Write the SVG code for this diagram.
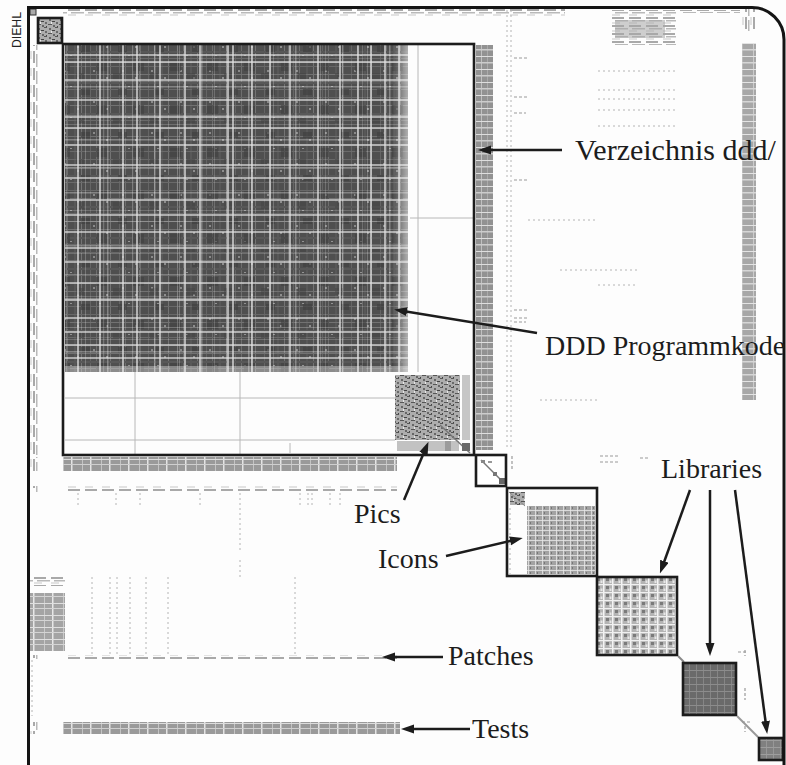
<svg xmlns="http://www.w3.org/2000/svg" width="786" height="765" viewBox="0 0 786 765">
  <style>
    .box{fill:none;stroke:#1c1c1c;stroke-width:2.6}
    .frame{fill:none;stroke:#141414;stroke-width:3}
    .lbl{font-family:"Liberation Serif","Times New Roman",serif;font-size:28px;fill:#1c1c1c}
    .arr{fill:none;stroke:#1c1c1c;stroke-width:2.5;marker-end:url(#ah)}
    .hl{stroke:#e2e2e2;stroke-width:1.6}
    .tick{stroke:#b4b4b4;stroke-width:1;stroke-dasharray:2 3}
    .tickd{stroke:#9a9a9a;stroke-width:1.2;stroke-dasharray:3 2}
    .thin{stroke:#b8b8b8;stroke-width:1}
  </style>
  <defs>
    <marker id="ah" markerWidth="13" markerHeight="10" refX="4" refY="4.5" orient="auto" markerUnits="userSpaceOnUse">
      <path d="M0,0 L13,4.5 L0,9 z" fill="#1c1c1c"/>
    </marker>
    <!-- dense dependency texture -->
    <pattern id="pDark" width="29" height="31" patternUnits="userSpaceOnUse">
      <rect width="29" height="31" fill="#4f4f4f"/>
      <rect x="3" width="1" height="31" fill="#656565"/>
      <rect x="9" width="1" height="31" fill="#6e6e6e"/>
      <rect x="16" width="2" height="31" fill="#585858"/>
      <rect x="23" width="1" height="31" fill="#747474"/>
      <rect y="4" width="29" height="1" fill="#686868"/>
      <rect y="12" width="29" height="1" fill="#727272"/>
      <rect y="20" width="29" height="2" fill="#585858"/>
      <rect y="27" width="29" height="1" fill="#6a6a6a"/>
      <rect x="6" y="8" width="2" height="2" fill="#8a8a8a"/>
      <rect x="19" y="15" width="2" height="2" fill="#8e8e8e"/>
      <rect x="12" y="24" width="2" height="1" fill="#939393"/>
    </pattern>
    <pattern id="pDark2" width="37" height="43" patternUnits="userSpaceOnUse">
      <rect x="7" y="3" width="9" height="6" fill="#3e3e3e" opacity="0.6"/>
      <rect x="22" y="19" width="11" height="9" fill="#3e3e3e" opacity="0.55"/>
      <rect x="2" y="30" width="8" height="7" fill="#444" opacity="0.5"/>
      <rect x="29" width="1" height="43" fill="#fff" opacity="0.18"/>
      <rect y="38" width="37" height="1" fill="#fff" opacity="0.18"/>
    </pattern>
    <pattern id="pLight" width="47" height="53" patternUnits="userSpaceOnUse">
      <rect x="13" width="1.5" height="53" fill="#fff" opacity="0.3"/>
      <rect x="38" width="1" height="53" fill="#fff" opacity="0.22"/>
      <rect y="9" width="47" height="1" fill="#fff" opacity="0.25"/>
      <rect y="33" width="47" height="1.5" fill="#fff" opacity="0.3"/>
    </pattern>
    <!-- dotted strips -->
    <pattern id="pHStrip" width="17" height="8" patternUnits="userSpaceOnUse">
      <rect x="0" y="1" width="12" height="2" fill="#a9a9a9"/>
      <rect x="3" y="4" width="13" height="1.5" fill="#b9b9b9"/>
      <rect x="0" y="6.5" width="8" height="1" fill="#c8c8c8"/>
    </pattern>
    <pattern id="pHStripDark" width="19" height="12" patternUnits="userSpaceOnUse">
      <rect width="19" height="12" fill="#9a9a9a"/>
      <rect x="14" width="1.5" height="12" fill="#e4e4e4"/>
      <rect x="6" width="1" height="12" fill="#c4c4c4"/>
      <rect y="3" width="19" height="1" fill="#dcdcdc"/>
      <rect y="8" width="19" height="1" fill="#cfcfcf"/>
    </pattern>
    <pattern id="pVStrip" width="8" height="17" patternUnits="userSpaceOnUse">
      <rect y="0" x="1" height="12" width="2" fill="#a9a9a9"/>
      <rect y="3" x="4" height="13" width="1.5" fill="#b9b9b9"/>
      <rect y="0" x="6.5" height="8" width="1" fill="#c8c8c8"/>
    </pattern>
    <pattern id="pVCol" width="17" height="13" patternUnits="userSpaceOnUse">
      <rect width="17" height="13" fill="#929292"/>
      <rect x="5" width="1" height="13" fill="#c0c0c0"/>
      <rect x="11" width="1" height="13" fill="#aaaaaa"/>
      <rect y="4" width="17" height="1" fill="#dedede"/>
      <rect y="10" width="17" height="1.5" fill="#cccccc"/>
    </pattern>
    <!-- cluster textures -->
    <pattern id="pSpeck" width="11" height="9" patternUnits="userSpaceOnUse">
      <rect width="11" height="9" fill="#adadad"/>
      <rect x="0" y="0" width="3" height="1" fill="#555"/>
      <rect x="5" y="1" width="2" height="2" fill="#666"/>
      <rect x="8" y="3" width="3" height="1" fill="#444"/>
      <rect x="1" y="4" width="2" height="2" fill="#6a6a6a"/>
      <rect x="4" y="6" width="4" height="1" fill="#555"/>
      <rect x="9" y="7" width="2" height="2" fill="#666"/>
      <rect x="2" y="8" width="1" height="1" fill="#444"/>
      <rect x="7" y="4" width="1" height="2" fill="#e8e8e8"/>
    </pattern>
    <pattern id="pLib1" width="9" height="8" patternUnits="userSpaceOnUse">
      <rect width="9" height="8" fill="#b4b4b4"/>
      <rect width="1.5" height="8" fill="#f4f4f4"/>
      <rect width="9" height="1.2" fill="#f0f0f0"/>
      <rect x="3" y="2" width="3" height="3" fill="#7a7a7a"/>
      <rect x="6.5" y="4.5" width="2" height="2.5" fill="#e6e6e6"/>
    </pattern>
    <pattern id="pLib2" width="7" height="7" patternUnits="userSpaceOnUse">
      <rect width="7" height="7" fill="#6a6a6a"/>
      <rect x="3" width="1" height="7" fill="#858585"/>
      <rect y="5" width="7" height="1" fill="#8c8c8c"/>
    </pattern>
    <pattern id="pIcon" width="7" height="5" patternUnits="userSpaceOnUse">
      <rect width="7" height="5" fill="#a2a2a2"/>
      <rect x="3" width="1" height="5" fill="#dadada"/>
      <rect width="7" height="0.8" fill="#e8e8e8"/>
      <rect x="5" y="2" width="1" height="2" fill="#777"/>
    </pattern>
    <linearGradient id="gFadeR" x1="0" x2="1" y1="0" y2="0">
      <stop offset="0" stop-color="#fff" stop-opacity="0"/>
      <stop offset="1" stop-color="#fff" stop-opacity="0.55"/>
    </linearGradient>
  </defs>

  <rect width="786" height="765" fill="#fdfdfd"/>

  <!-- off-diagonal dependency marks -->
  <g id="deps">
    <rect x="63" y="9" width="502" height="8" fill="url(#pHStrip)"/>
    <rect x="612" y="10" width="64" height="35" fill="url(#pHStrip)"/>
    <rect x="615" y="20" width="50" height="18" fill="#a8a8a8" opacity="0.55"/>
    <rect x="680" y="10" width="60" height="3" fill="url(#pHStrip)"/>
    <rect x="742" y="9" width="14" height="22" fill="url(#pVStrip)"/>
    <rect x="742" y="43" width="14" height="357" fill="url(#pVCol)" opacity="0.8"/>
    <rect x="30" y="45" width="8" height="410" fill="url(#pVStrip)"/>
    <rect x="476" y="45" width="17" height="405" fill="url(#pVCol)"/>
    <line x1="507" y1="10" x2="507" y2="450" class="tick"/>
    <line x1="511" y1="10" x2="511" y2="450" class="tick"/>
    <path d="M514,58h14M514,97h14M514,113h12M514,180h14M514,310h14M514,318h14M514,322h12" class="tickd"/>
    <path d="M598,71h77M598,90h77M598,99h77M598,110h77M598,126h77M598,285h40" class="tick"/>
    <path d="M528,220h70M560,270h80M540,400h60" class="tick"/>
    <!-- bands below the ddd block -->
    <rect x="63" y="457" width="334" height="14" fill="url(#pHStripDark)"/>
    <rect x="30" y="457" width="8" height="14" fill="url(#pVStrip)"/>
    <rect x="63" y="486" width="334" height="6" fill="url(#pHStrip)"/>
    <rect x="30" y="486" width="8" height="6" fill="url(#pVStrip)"/>
    <path d="M78,493v12M116,493v12M140,493v12M200,493v14M240,493v60M300,493v12M308,493v12M312,493v12M330,493v12M340,493v12" class="tick"/>
    <path d="M505,456v14M512,456v14M600,456h20M640,458h10M600,462h20" class="tickd"/>
    <!-- lower-left cluster -->
    <rect x="30" y="577" width="35" height="9" fill="url(#pHStrip)"/>
    <rect x="30" y="593" width="35" height="58" fill="url(#pHStripDark)" opacity="0.9"/>
    <path d="M92,577v78M110,577v78M117,577v78M130,577v78M146,577v78M168,577v78M295,577v78M240,560v18" class="tick"/>
    <line x1="32" y1="660" x2="32" y2="716" class="tick"/>
    <!-- patches / tests rows -->
    <rect x="63" y="655" width="334" height="4" fill="url(#pHStrip)"/>
    <rect x="30" y="655" width="8" height="4" fill="url(#pVStrip)"/>
    <rect x="63" y="722" width="337" height="12" fill="url(#pHStripDark)"/>
    <rect x="30" y="722" width="8" height="12" fill="url(#pVStrip)"/>
    <!-- scattered marks near the libraries -->
    <path d="M745,650v6M738,652h8M745,688v12M742,722h8M745,726v6" class="tickd"/>
    <path d="M623,600v8M670,640h8" class="tick"/>
  </g>

  <!-- tiny blocks at the top left -->
  <g id="blk-root">
    <rect x="30" y="9" width="6" height="6" fill="#aaa" stroke="#333" stroke-width="1"/>
  </g>
  <g id="blk-top">
    <rect x="38" y="18" width="24" height="25" fill="url(#pSpeck)"/>
    <rect x="38" y="18" width="24" height="25" class="box"/>
  </g>

  <!-- directory ddd/ with source and pictures -->
  <g id="node-verzeichnis">
    <g id="node-ddd">
      <rect x="65" y="45" width="343" height="327" fill="url(#pDark)"/>
      <rect x="65" y="45" width="343" height="327" fill="url(#pDark2)"/>
      <rect x="65" y="45" width="343" height="327" fill="url(#pLight)"/>
      <path class="hl" opacity="0.85" d="M78,45v327M100,45v327M123,45v327M137,45v327M160,45v327M185,45v327M200,45v327M228,45v327M233,45v327M252,45v327M270,45v327M290,45v327M318,45v327M340,45v327M358,45v327M371,45v327M385,45v327M399,45v327"/>
      <path class="hl" opacity="0.85" d="M65,55h343M65,62h343M65,80h343M65,100h343M65,117h343M65,128h343M65,145h343M65,165h343M65,178h343M65,200h343M65,215h343M65,232h343M65,248h343M65,262h343M65,283h343M65,300h343M65,318h343M65,332h343M65,345h343M65,358h343"/>
      <rect x="393" y="45" width="15" height="327" fill="url(#gFadeR)"/>
      <rect x="65" y="366" width="343" height="6" fill="#fff" opacity="0.35"/>
    </g>
    <path d="M65,398h330M65,440h330M135,372v82M240,372v82M290,443v10M418,45v327M410,218h63" class="thin"/>
    <g id="node-pics">
      <rect x="395" y="375" width="65" height="65" fill="url(#pSpeck)"/>
      <rect x="462" y="375" width="8" height="65" fill="#c6c6c6"/>
      <rect x="397" y="441" width="62" height="10" fill="#c2c2c2"/>
      <rect x="445" y="441" width="6" height="10" fill="#9c9c9c"/>
      <path d="M440,425l30,28" stroke="#777" stroke-width="1.5"/>
      <rect x="462" y="443" width="8" height="8" fill="#6a6a6a"/>
    </g>
    <rect x="63" y="44" width="411" height="411" class="box"/>
  </g>

  <g id="blk-mid">
    <rect x="477" y="456" width="29" height="30" fill="#fff"/>
    <path d="M481,460l22,22" stroke="#777" stroke-width="1.5"/>
    <rect x="481" y="460" width="4" height="3" fill="#888"/>
    <rect x="488" y="461" width="4" height="2" fill="#999"/>
    <rect x="493" y="472" width="4" height="4" fill="#777"/>
    <rect x="499" y="478" width="6" height="6" fill="#666"/>
    <rect x="476" y="455" width="30" height="31" class="box"/>
  </g>

  <g id="node-icons">
    <rect x="510" y="492" width="15" height="13" fill="url(#pSpeck)"/>
    <path d="M509,492l16,14" stroke="#888" stroke-width="1"/>
    <line x1="510" y1="508" x2="510" y2="574" class="tick"/>
    <rect x="527" y="506" width="68" height="68" fill="url(#pIcon)"/>
    <rect x="507" y="488" width="90" height="88" class="box"/>
  </g>

  <g id="node-lib1">
    <rect x="598" y="578" width="78" height="76" fill="url(#pLib1)"/>
    <rect x="597" y="577" width="80" height="78" class="box"/>
  </g>
  <path d="M678,656l6,6" stroke="#888" stroke-width="2"/>
  <g id="node-lib2">
    <rect x="683" y="663" width="53" height="52" fill="url(#pLib2)"/>
    <rect x="683" y="663" width="53" height="52" class="box"/>
  </g>
  <path d="M737,716l21,21" stroke="#999" stroke-width="2"/>
  <g id="node-lib3">
    <rect x="759" y="738" width="24" height="22" fill="url(#pLib2)" opacity="0.85"/>
    <rect x="759" y="738" width="24" height="22" class="box"/>
  </g>

  <!-- outer frame -->
  <g id="frame">
    <path class="frame" d="M28.5,765V7.5H752a32,32 0 0 1 32,32V765"/>
  </g>
  <g id="mark">
    <text x="0" y="0" transform="translate(21,48) rotate(-90)" font-family="Liberation Sans, Arial, sans-serif" font-size="13" textLength="36" lengthAdjust="spacingAndGlyphs" fill="#222">DIEHL</text>
  </g>

  <!-- callouts -->
  <g id="connectors">
    <line class="arr" x1="562" y1="150" x2="487" y2="150"/>
    <line class="arr" x1="537" y1="333" x2="403" y2="311"/>
    <line class="arr" x1="404" y1="500" x2="425" y2="450"/>
    <line class="arr" x1="446" y1="556" x2="514" y2="540"/>
    <line class="arr" x1="690" y1="490" x2="663" y2="565"/>
    <line class="arr" x1="710" y1="490" x2="710" y2="647"/>
    <line class="arr" x1="735" y1="490" x2="766" y2="725"/>
    <line class="arr" x1="443" y1="657" x2="391" y2="657"/>
    <line class="arr" x1="470" y1="729" x2="410" y2="729"/>
  </g>

  <g id="labels">
    <text class="lbl" x="575" y="160" style="font-size:30px">Verzeichnis ddd/</text>
    <text class="lbl" x="545" y="355">DDD Programmkode</text>
    <text class="lbl" x="354" y="523">Pics</text>
    <text class="lbl" x="378" y="568">Icons</text>
    <text class="lbl" x="661" y="478">Libraries</text>
    <text class="lbl" x="448" y="665">Patches</text>
    <text class="lbl" x="472" y="738">Tests</text>
  </g>
</svg>
